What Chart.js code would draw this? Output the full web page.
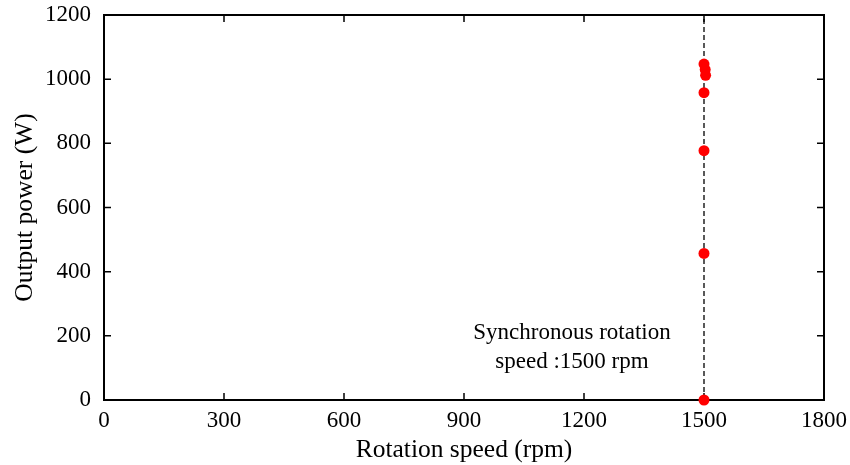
<!DOCTYPE html>
<html>
<head>
<meta charset="utf-8">
<script src="https://cdn.jsdelivr.net/npm/chart.js@4/dist/chart.umd.min.js"></script>
<style>
  html, body { margin: 0; padding: 0; background: #fff; }
  #wrap { width: 850px; height: 465px; }
</style>
</head>
<body>
<div id="wrap"><canvas id="chart"></canvas></div>
<script>
const speedRpm = [1500, 1503, 1504, 1500, 1500, 1500, 1500];
const powerW = [1047, 1030, 1012, 958, 777, 457, 0];

// Synchronous speed marker
const syncSpeed = 1500;
const syncLabel = ['Synchronous rotation', 'speed :1500 rpm'];
const syncLabelPos = { x: 1170, y: [209, 118] };

// Axis ranges / ticks
const xTicks = [0, 300, 600, 900, 1200, 1500, 1800];
const yTicks = [0, 200, 400, 600, 800, 1000, 1200];

const FONT = 'Liberation Serif';
const FSIZE = 23;
const TSIZE = 25.5; // axis titles are a bit bigger

// frame + inward ticks on all four sides (gnuplot style)
const framePlugin = {
  id: 'frame',
  beforeDatasetsDraw(chart) {
    const { ctx, chartArea: a, scales } = chart;
    ctx.save();
    ctx.strokeStyle = '#000';
    ctx.lineWidth = 1.5;
    ctx.beginPath();
    xTicks.forEach(v => {
      const px = scales.x.getPixelForValue(v);
      ctx.moveTo(px, a.bottom); ctx.lineTo(px, a.bottom - 7);
      ctx.moveTo(px, a.top); ctx.lineTo(px, a.top + 7);
    });
    yTicks.forEach(v => {
      const py = scales.y.getPixelForValue(v);
      ctx.moveTo(a.left, py); ctx.lineTo(a.left + 7, py);
      ctx.moveTo(a.right, py); ctx.lineTo(a.right - 7, py);
    });
    ctx.stroke();
    ctx.lineWidth = 2;
    ctx.strokeRect(a.left, a.top, a.right - a.left, a.bottom - a.top);
    ctx.restore();
  },
  afterDatasetsDraw(chart) {
    const { ctx, scales } = chart;
    ctx.save();
    ctx.fillStyle = '#000';
    ctx.font = FSIZE + 'px "' + FONT + '"';
    ctx.textAlign = 'center';
    ctx.textBaseline = 'middle';
    const px = scales.x.getPixelForValue(syncLabelPos.x);
    syncLabel.forEach((t, i) => {
      ctx.fillText(t, px, scales.y.getPixelForValue(syncLabelPos.y[i]));
    });
    ctx.restore();
  }
};

new Chart(document.getElementById('chart'), {
  type: 'scatter',
  data: {
    datasets: [
      {
        data: speedRpm.map((x, i) => ({ x, y: powerW[i] })),
        backgroundColor: '#ff0000',
        borderColor: '#ff0000',
        pointRadius: 5.5,
        pointBorderWidth: 0,
        clip: false,
        order: 1
      },
      {
        data: [{ x: syncSpeed, y: 0 }, { x: syncSpeed, y: 1200 }],
        showLine: true,
        borderColor: '#000',
        borderWidth: 1.3,
        borderDash: [5, 3],
        pointRadius: 0,
        order: 2
      }
    ]
  },
  options: {
    responsive: true,
    maintainAspectRatio: false,
    animation: false,
    layout: { padding: { left: 0, top: 15, right: 26, bottom: 0 } },
    plugins: { legend: { display: false }, tooltip: { enabled: false } },
    scales: {
      x: {
        type: 'linear',
        min: 0, max: 1800,
        afterFit(s) { s.height = 65; s.paddingLeft = 0; s.paddingRight = 0; },
        grid: { display: false, drawTicks: false },
        border: { display: false },
        ticks: {
          stepSize: 300,
          padding: 7,
          color: '#000',
          font: { family: FONT, size: FSIZE },
          callback: v => String(v)
        },
        title: {
          display: true,
          text: 'Rotation speed (rpm)',
          color: '#000',
          font: { family: FONT, size: TSIZE },
          padding: { top: 0, bottom: -1 }
        }
      },
      y: {
        min: 0, max: 1200,
        afterFit(s) { s.width = 104; s.paddingTop = 0; s.paddingBottom = 0; },
        grid: { display: false, drawTicks: false },
        border: { display: false },
        ticks: {
          stepSize: 200,
          padding: 13,
          color: '#000',
          font: { family: FONT, size: FSIZE },
          callback: v => String(v)
        },
        title: {
          display: true,
          text: 'Output power (W)',
          color: '#000',
          font: { family: FONT, size: TSIZE },
          padding: { top: 10, bottom: 0 }
        }
      }
    }
  },
  plugins: [framePlugin]
});
</script>
</body>
</html>
